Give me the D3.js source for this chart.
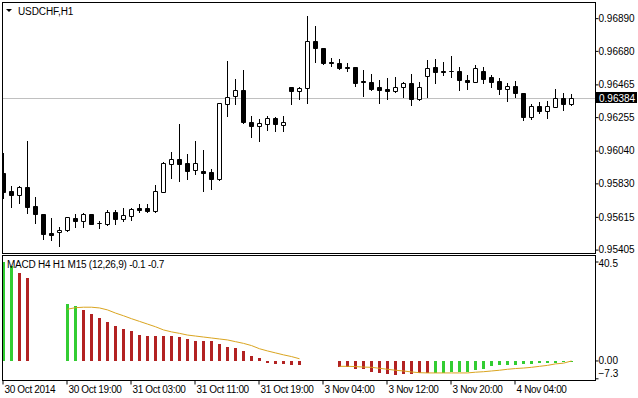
<!DOCTYPE html>
<html>
<head>
<meta charset="utf-8">
<script src="https://cdn.jsdelivr.net/npm/d3@7"></script>
<style>
  html, body { margin: 0; padding: 0; background: #fff; }
  svg text { font-family: "Liberation Sans", Arial, sans-serif; font-size: 10px; fill: #000; }
</style>
</head>
<body>
<div id="chart"></div>
<script>
// USDCHF H1 candles (oldest -> newest)
const opens = [0.95900, 0.95784, 0.95758, 0.95810, 0.95688, 0.95636, 0.95514, 0.95521, 0.95534, 0.95611,
  0.95591, 0.95636, 0.95579, 0.95572, 0.95649, 0.95604, 0.95624, 0.95675, 0.95675, 0.95656,
  0.95778, 0.95957, 0.95989, 0.95964, 0.95919, 0.95912, 0.95906, 0.95861, 0.96342, 0.96394,
  0.96432, 0.96227, 0.96201, 0.96214, 0.96252, 0.96208, 0.96451, 0.96426, 0.96445, 0.96747,
  0.96702, 0.96612, 0.96605, 0.96580, 0.96580, 0.96490, 0.96483, 0.96451, 0.96439, 0.96426,
  0.96451, 0.96477, 0.96374, 0.96522, 0.96580, 0.96554, 0.96554, 0.96554, 0.96496, 0.96483,
  0.96554, 0.96516, 0.96490, 0.96439, 0.96458, 0.96413, 0.96259, 0.96329, 0.96297, 0.96323,
  0.96381, 0.96342];
const highs = [0.96028, 0.95816, 0.95816, 0.96105, 0.95745, 0.95636, 0.95611, 0.95553, 0.95617, 0.95636,
  0.95643, 0.95636, 0.95591, 0.95662, 0.95662, 0.95675, 0.95675, 0.95701, 0.95701, 0.95822,
  0.95970, 0.96034, 0.96214, 0.96021, 0.96105, 0.96047, 0.95925, 0.96349, 0.96618, 0.96503,
  0.96560, 0.96265, 0.96246, 0.96265, 0.96259, 0.96265, 0.96451, 0.96451, 0.96907, 0.96843,
  0.96702, 0.96637, 0.96631, 0.96605, 0.96580, 0.96560, 0.96535, 0.96496, 0.96509, 0.96516,
  0.96483, 0.96535, 0.96483, 0.96625, 0.96631, 0.96612, 0.96650, 0.96580, 0.96528, 0.96593,
  0.96580, 0.96528, 0.96509, 0.96477, 0.96490, 0.96413, 0.96342, 0.96355, 0.96362, 0.96439,
  0.96413, 0.96406];
const lows = [0.95739, 0.95681, 0.95707, 0.95643, 0.95579, 0.95476, 0.95470, 0.95431, 0.95527, 0.95553,
  0.95553, 0.95572, 0.95547, 0.95566, 0.95572, 0.95591, 0.95598, 0.95649, 0.95649, 0.95649,
  0.95778, 0.95867, 0.95848, 0.95861, 0.95893, 0.95784, 0.95797, 0.95855, 0.96265, 0.96342,
  0.96220, 0.96131, 0.96105, 0.96175, 0.96169, 0.96169, 0.96342, 0.96374, 0.96349, 0.96612,
  0.96599, 0.96586, 0.96567, 0.96554, 0.96458, 0.96394, 0.96432, 0.96349, 0.96374, 0.96419,
  0.96387, 0.96336, 0.96368, 0.96387, 0.96477, 0.96528, 0.96516, 0.96432, 0.96439, 0.96483,
  0.96477, 0.96451, 0.96406, 0.96362, 0.96387, 0.96240, 0.96246, 0.96285, 0.96252, 0.96323,
  0.96304, 0.96336];
const closes = [0.95778, 0.95758, 0.95810, 0.95681, 0.95636, 0.95508, 0.95502, 0.95534, 0.95617, 0.95591,
  0.95636, 0.95572, 0.95579, 0.95649, 0.95604, 0.95630, 0.95668, 0.95662, 0.95656, 0.95784,
  0.95964, 0.95989, 0.95957, 0.95912, 0.95964, 0.95900, 0.95861, 0.96349, 0.96387, 0.96432,
  0.96227, 0.96201, 0.96220, 0.96252, 0.96214, 0.96227, 0.96426, 0.96445, 0.96747, 0.96702,
  0.96605, 0.96605, 0.96573, 0.96573, 0.96477, 0.96483, 0.96439, 0.96432, 0.96426, 0.96451,
  0.96477, 0.96374, 0.96451, 0.96573, 0.96548, 0.96548, 0.96551, 0.96496, 0.96483, 0.96573,
  0.96503, 0.96483, 0.96439, 0.96458, 0.96413, 0.96259, 0.96329, 0.96297, 0.96329, 0.96381,
  0.96342, 0.96384];

const priceTicks = [0.96890, 0.96680, 0.96465, 0.96255, 0.96040, 0.95830, 0.95615, 0.95405];
const lastPrice = 0.96384;

// MACD (multi timeframe) histogram and signal, null = not drawn
const macdHist = [40.5, 39.0, 36.1, 34.1, null, null, null, null,
  23.3, 22.5, 20.9, 19.2, 17.6, 16.1, 14.3, 13.1, 12.3, 10.6, 10.2, 10.2, 10.2, 10.2, 9.8, 8.9,
  8.3, 8.3, 8.3, 7.0, 5.9, 5.2, 4.1, 2.0, 1.1, -0.9, -1.1, -1.1, -1.5, -1.6,
  null, null, null, null,
  -2.6, -2.6, -3.3, -3.4, -4.4, -5.0, -5.5, -5.6, -5.5, -5.3, -5.0, -4.8,
  -4.8, -4.8, -4.6, -4.6, -4.4, -3.7, -3.1, -2.2, -1.8, -1.6, -1.5, -1.2, -1.1, -1.0, -0.8, -0.7, -0.5, -0.4];
const macdUp = [1, 1, 0, 0, 0, 0, 0, 0,
  1, 1, 0, 0, 0, 0, 0, 0, 0, 0, 0, 0, 0, 0, 0, 0,
  0, 0, 0, 0, 0, 0, 0, 0, 0, 0, 0, 0, 0, 0,
  0, 0, 0, 0,
  0, 0, 0, 0, 0, 0, 0, 0, 0, 0, 0, 0,
  1, 1, 1, 1, 1, 1, 1, 1, 1, 1, 1, 1, 1, 1, 1, 1, 1, 1];
const macdSignal = [null, null, null, null, null, null, null, null,
  21.2, 21.8, 22.0, 22.0, 21.7, 20.9, 19.6, 18.5, 17.3, 16.2, 15.1, 14.0, 12.7, 11.9, 11.3, 10.6,
  10.2, 9.8, 9.4, 9.0, 8.6, 7.9, 7.2, 6.3, 5.0, 4.1, 3.3, 2.5, 1.8, 0.9,
  null, null, null, null,
  -2.2, -2.2, -2.3, -2.5, -2.6, -3.0, -3.4, -3.8, -4.1, -4.5, -4.8, -4.9,
  -4.9, -4.9, -4.9, -4.9, -4.9, -4.6, -4.4, -4.1, -3.8, -3.4, -3.1, -2.9, -2.6, -2.2, -1.8, -1.2, -0.9, 0.0];
const macdTicks = [40.5, 0.00, -7.3];

const timeTickIdx = [0, 8, 16, 24, 32, 40, 48, 56, 64];
const timeLabels = ['30 Oct 2014', '30 Oct 19:00', '31 Oct 03:00', '31 Oct 11:00', '31 Oct 19:00',
  '3 Nov 04:00', '3 Nov 12:00', '3 Nov 20:00', '4 Nov 04:00'];

const width = 638;
const height = 398;
const left = 2.5, right = 595.5;
const mainTop = 2.5, mainBottom = 253.5;
const subTop = 255.5, subBottom = 380.5;
const font = '"Liberation Sans", Arial, sans-serif';

const svg = d3.select('#chart').append('svg')
  .attr('width', width).attr('height', height)
  .style('display', 'block');

svg.append('rect').attr('width', width).attr('height', height).attr('fill', '#fff');

const defs = svg.append('defs');
defs.append('clipPath').attr('id', 'clip-main').append('rect')
  .attr('x', left + 0.5).attr('y', mainTop + 0.5).attr('width', right - left - 1).attr('height', mainBottom - mainTop - 1);
defs.append('clipPath').attr('id', 'clip-sub').append('rect')
  .attr('x', left + 0.5).attr('y', subTop + 0.5).attr('width', right - left - 1).attr('height', subBottom - subTop - 1);

/* Scales
=========================================================================*/
const n = closes.length;
const x = d3.scaleLinear().domain([0, n - 1]).range([3.5, 3.5 + 8 * (n - 1)]);
const y = d3.scaleLinear().domain([0.95405, 0.96890]).range([250.1, 18.65]);
const ym = d3.scaleLinear().domain([-7.3, 40.5]).range([378.8, 262]);

const snap = v => Math.round(v) + 0.5;

/* Main panel
=========================================================================*/
const main = svg.append('g').attr('clip-path', 'url(#clip-main)');

main.append('line')
  .attr('x1', left).attr('x2', right)
  .attr('y1', snap(y(lastPrice))).attr('y2', snap(y(lastPrice)))
  .attr('stroke', '#c0c0c0');

const idx = d3.range(n);

main.selectAll('line.wick').data(idx).enter().append('line')
  .attr('class', 'wick')
  .attr('x1', i => x(i)).attr('x2', i => x(i))
  .attr('y1', i => snap(y(highs[i])) - 0.5).attr('y2', i => snap(y(lows[i])) + 0.5)
  .attr('stroke', '#000');

main.selectAll('path.body').data(idx).enter().append('path')
  .attr('class', 'body')
  .attr('d', i => {
    const t = snap(y(Math.max(opens[i], closes[i])));
    const b = snap(y(Math.min(opens[i], closes[i])));
    const x0 = x(i) - 2, x1 = x(i) + 2;
    return `M${x0},${t}H${x1}V${b}H${x0}Z`;
  })
  .attr('fill', i => closes[i] < opens[i] ? '#000' : '#fff')
  .attr('stroke', '#000');

svg.append('rect')
  .attr('x', left).attr('y', mainTop).attr('width', right - left).attr('height', mainBottom - mainTop)
  .attr('fill', 'none').attr('stroke', '#000');

// price axis
const yAxis = d3.axisRight(y).tickValues(priceTicks).tickFormat(d3.format('.5f')).tickSize(3).offset(0);
svg.append('g').attr('transform', `translate(${right},0)`).call(yAxis)
  .call(g => g.select('.domain').remove())
  .call(g => g.selectAll('text').attr('x', 3).attr('fill', '#000').style('font-size', '10px').style('font-family', font));

// last price box
const lp = svg.append('g').attr('transform', `translate(${right + 0.5},${snap(y(lastPrice)) - 0.5})`);
lp.append('rect').attr('x', 0).attr('y', -6).attr('width', 41).attr('height', 11).attr('fill', '#000');
lp.append('text').attr('x', 3).attr('y', 0).attr('dy', '0.35em').style('fill', '#fff').text(d3.format('.5f')(lastPrice));

// title
svg.append('path').attr('d', 'M6,9H12L9,12Z').attr('fill', '#000');
svg.append('text').attr('x', 18).attr('y', 15).style('letter-spacing', '-0.1px').text('USDCHF,H1');

/* MACD panel
=========================================================================*/
const sub = svg.append('g').attr('clip-path', 'url(#clip-sub)');
const histIdx = idx.filter(i => macdHist[i] !== null);

sub.selectAll('rect.hist').data(histIdx).enter().append('rect')
  .attr('class', 'hist')
  .attr('x', i => x(i) - 1.5)
  .attr('width', 3)
  .attr('y', i => Math.round(Math.min(ym(macdHist[i]), ym(0))))
  .attr('height', i => Math.max(1, Math.round(Math.abs(ym(macdHist[i]) - ym(0)))))
  .attr('fill', i => macdUp[i] ? '#32cd32' : '#b22222');

const signalLine = d3.line()
  .defined(i => macdSignal[i] !== null)
  .x(i => x(i))
  .y(i => ym(macdSignal[i]));

sub.append('path').datum(idx)
  .attr('d', signalLine)
  .attr('fill', 'none')
  .attr('stroke', '#daa520')
  .attr('stroke-width', 1);

svg.append('rect')
  .attr('x', left).attr('y', subTop).attr('width', right - left).attr('height', subBottom - subTop)
  .attr('fill', 'none').attr('stroke', '#000');

svg.append('text').attr('x', 7).attr('y', 268).style('letter-spacing', '-0.25px')
  .text('MACD H4 H1 M15 (12,26,9) -0.1 -0.7');

const mAxis = d3.axisRight(ym).tickValues(macdTicks).tickFormat(d => d === 0 ? '0.00' : d3.format('.1f')(d)).tickSize(3).offset(0);
svg.append('g').attr('transform', `translate(${right},0)`).call(mAxis)
  .call(g => g.select('.domain').remove())
  .call(g => g.selectAll('text').attr('x', 3).attr('fill', '#000').style('font-size', '10px').style('font-family', font))
  .call(g => g.selectAll('.tick').filter(d => d === 40.5).select('text').attr('dy', '0.5em'))
  .call(g => g.selectAll('.tick').filter(d => d === -7.3).select('text').attr('dy', '-0.15em'));

/* Time axis
=========================================================================*/
const xAxis = d3.axisBottom(x).tickValues(timeTickIdx).tickFormat((d, i) => timeLabels[i]).tickSize(4).offset(0);
svg.append('g').attr('transform', `translate(0,${subBottom})`).call(xAxis)
  .call(g => g.select('.domain').remove())
  .call(g => g.selectAll('line').attr('transform', 'translate(-0.5,0)'))
  .call(g => g.selectAll('text').attr('text-anchor', 'start').attr('x', 1).attr('y', 4).attr('dy', '0.85em')
    .attr('fill', '#000').style('font-size', '10px').style('font-family', font).style('letter-spacing', '-0.35px'));
</script>
</body>
</html>
